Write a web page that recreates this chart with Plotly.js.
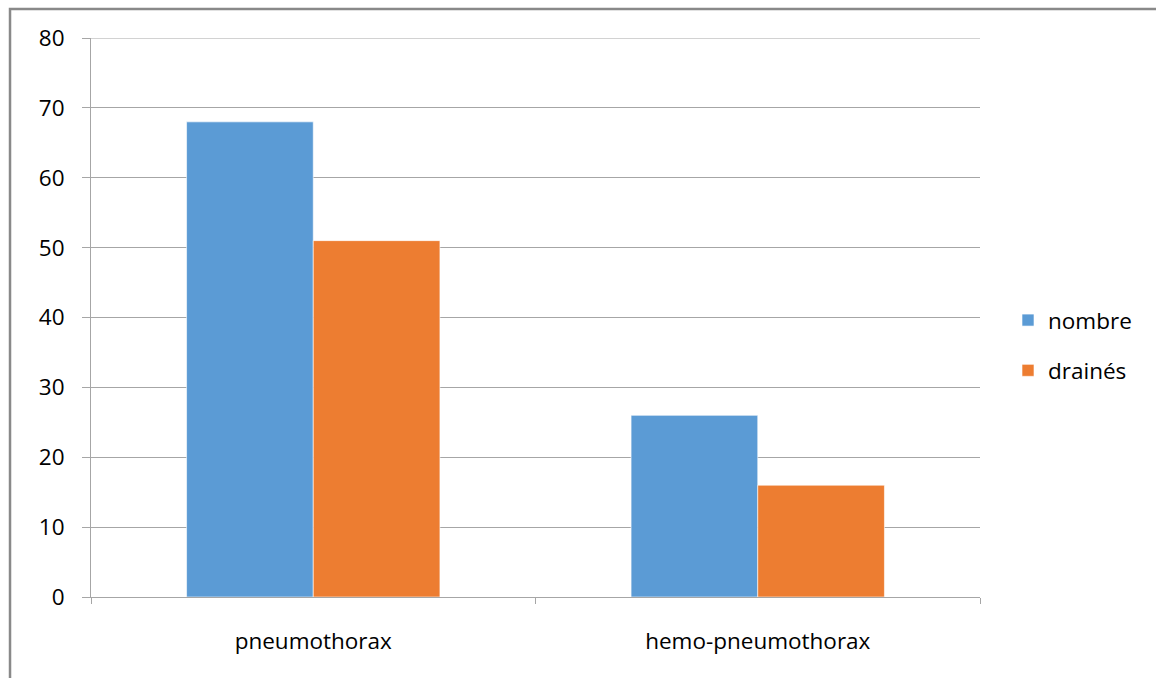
<!DOCTYPE html>
<html><head><meta charset="utf-8">
<script src="https://cdn.plot.ly/plotly-3.0.1.min.js"></script>
<style>html,body{margin:0;padding:0;background:#fff}#chart{width:1156px;height:678px}</style>
</head><body><div id="chart"></div>
<script>
const categories = ["pneumothorax", "hemo-pneumothorax"];
const nombre = [68, 26];
const draines = [51, 16];
const seriesNames = ["nombre", "drainés"];
const yTicks = [0, 10, 20, 30, 40, 50, 60, 70, 80];

const font = {family: "Open Sans, Noto Sans, sans-serif", size: 22.5, color: "#000"};
const traces = [
  {type: "bar", name: seriesNames[0], legendgroup: "a", x: categories, y: nombre,
   marker: {color: "#5B9BD5", line: {color: "rgba(255,255,255,0.6)", width: 1}}},
  {type: "bar", name: seriesNames[1], legendgroup: "b", x: categories, y: draines,
   marker: {color: "#ED7D31", line: {color: "rgba(255,255,255,0.6)", width: 1}}}
];
const layout = {
  width: 1156, height: 678,
  margin: {l: 91, r: 176, t: 38, b: 81, pad: 0},
  paper_bgcolor: "#fff", plot_bgcolor: "#fff",
  font: font,
  barmode: "group", bargap: 0.43, bargroupgap: 0,
  showlegend: true,
  legend: {x: 1.0315, y: 0.45, xanchor: "left", yanchor: "middle", font: {family: font.family, size: 22.5},
           itemwidth: 30, traceorder: "grouped", tracegroupgap: 18, bgcolor: "rgba(0,0,0,0)"},
  xaxis: {type: "category", showgrid: false, showline: true, linecolor: "#A6A6A6", linewidth: 1,
          ticks: "outside", tickson: "boundaries", ticklen: 6, tickcolor: "#A6A6A6",
          ticklabelstandoff: 24, tickfont: font, fixedrange: true},
  yaxis: {range: [0, 80], tickvals: yTicks, ticktext: yTicks.map(String), showgrid: true, gridcolor: "#A6A6A6", gridwidth: 1,
          showline: true, linecolor: "#A6A6A6", linewidth: 1, zeroline: false,
          ticks: "outside", ticklen: 8, tickcolor: "#A6A6A6", ticklabelstandoff: 13, tickfont: font, fixedrange: true},
  shapes: [
    {type: "rect", xref: "paper", yref: "paper", x0: -0.0911, x1: 1.5, y0: -0.5, y1: 1.0519,
     line: {color: "#898989", width: 2.5}, fillcolor: "rgba(0,0,0,0)", layer: "below"},
    {type: "line", xref: "paper", yref: "y", x0: 0, x1: 1, y0: yTicks[yTicks.length - 1], y1: yTicks[yTicks.length - 1],
     line: {color: "#A6A6A6", width: 1}, layer: "below"}
  ]
};
Plotly.newPlot("chart", traces, layout, {displayModeBar: false, staticPlot: true});
</script></body></html>
